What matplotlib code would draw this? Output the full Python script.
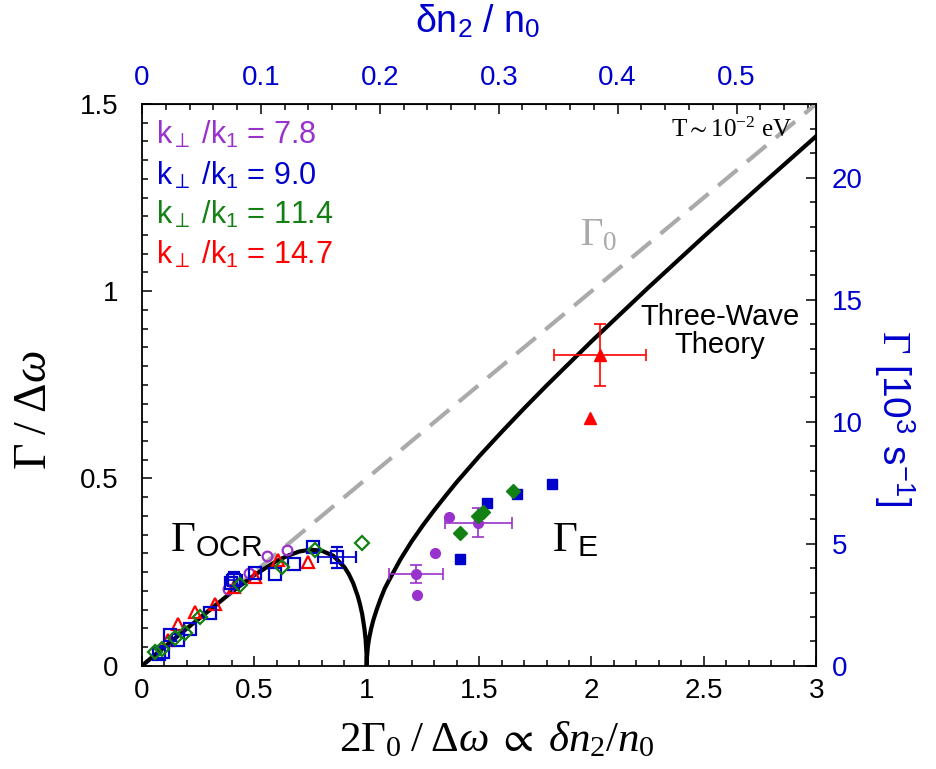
import numpy as np
import matplotlib
matplotlib.use('Agg')
import matplotlib.pyplot as plt
from matplotlib.ticker import MultipleLocator, FuncFormatter

plt.rcParams['font.family'] = ['Liberation Sans', 'DejaVu Sans']
plt.rcParams['mathtext.fontset'] = 'custom'
plt.rcParams['mathtext.rm'] = 'Liberation Serif'
plt.rcParams['mathtext.it'] = 'Liberation Serif:italic'
plt.rcParams['mathtext.bf'] = 'Liberation Serif:bold'
plt.rcParams['mathtext.sf'] = 'Liberation Sans'
plt.rcParams['mathtext.fallback'] = 'stix'

purple = '#9932cc'
blue = '#0000cc'
green = '#128012'
red = '#ff0000'
grey = '#aaaaaa'

# conversion factors for the twin axes
dn_per_x = 0.189      # delta n2 / n0 per unit of 2 Gamma0 / d omega
rate_per_y = 15.35    # Gamma [1e3 / s] per unit of Gamma / d omega

# three-wave theory curve
theory_x = [0, 0.1, 0.2, 0.3, 0.4, 0.5, 0.6, 0.65, 0.7, 0.75, 0.8, 0.85, 0.9, 0.92,
            0.94, 0.96, 0.97, 0.98, 0.99, 0.995, 0.999, 1.0,
            1.001, 1.005, 1.01, 1.02, 1.03, 1.045, 1.06, 1.08, 1.1, 1.15, 1.2, 1.25,
            1.3, 1.35, 1.4, 1.5, 1.6, 1.7, 1.8, 1.9, 2.0, 2.25, 2.5, 2.75, 3.0]
theory_y = [0, 0.05, 0.0996, 0.148, 0.197, 0.242, 0.280, 0.294, 0.305, 0.310, 0.307,
            0.294, 0.264, 0.245, 0.220, 0.186, 0.164, 0.137, 0.098, 0.070, 0.032, 0.0,
            0.022, 0.050, 0.071, 0.100, 0.123, 0.151, 0.176, 0.206, 0.229, 0.284,
            0.332, 0.375, 0.415, 0.453, 0.490, 0.559, 0.624, 0.687, 0.748, 0.807,
            0.866, 1.008, 1.146, 1.281, 1.414]

gamma0_x = [0, 3]
gamma0_y = [0, 1.5]

# open symbols (OCR regime)
p_open_x = [0.384, 0.478, 0.555, 0.644]
p_open_y = [0.204, 0.248, 0.293, 0.309]
b_open_x = [0.075, 0.095, 0.125, 0.162, 0.214, 0.303, 0.395, 0.503, 0.592, 0.677, 0.760]
b_open_y = [0.030, 0.037, 0.082, 0.069, 0.097, 0.140, 0.222, 0.247, 0.245, 0.272, 0.318]
b_open_err_x = [0.41, 0.866]
b_open_err_y = [0.228, 0.289]
b_open_err_dx = [0.033, 0.085]
b_open_err_dy = [0.022, 0.027]
g_open_x = [0.058, 0.088, 0.147, 0.191, 0.258, 0.436, 0.622, 0.770, 0.978]
g_open_y = [0.037, 0.044, 0.073, 0.088, 0.131, 0.215, 0.264, 0.309, 0.329]
r_open_x = [0.117, 0.162, 0.236, 0.325, 0.411, 0.503, 0.607, 0.737]
r_open_y = [0.070, 0.111, 0.144, 0.165, 0.209, 0.236, 0.282, 0.278]

# filled symbols (explosive regime)
p_fill_x = [1.225, 1.304, 1.366]
p_fill_y = [0.189, 0.302, 0.398]
p_fill_err_x = [1.218, 1.497]
p_fill_err_y = [0.245, 0.382]
p_fill_err_dx = [0.121, 0.150]
p_fill_err_dy = [0.0245, 0.038]
b_fill_x = [1.415, 1.534, 1.668, 1.826]
b_fill_y = [0.285, 0.435, 0.458, 0.484]
g_fill_x = [1.413, 1.497, 1.516, 1.653]
g_fill_y = [0.354, 0.400, 0.411, 0.466]
r_fill_x = [1.994]
r_fill_y = [0.661]
r_fill_err_x = [2.039]
r_fill_err_y = [0.830]
r_fill_err_dx = [0.205]
r_fill_err_dy = [0.082]

legend_text = [r'k$_{\mathsf{\perp}}$ /k$_{\mathsf{1}}$ = 7.8',
               r'k$_{\mathsf{\perp}}$ /k$_{\mathsf{1}}$ = 9.0',
               r'k$_{\mathsf{\perp}}$ /k$_{\mathsf{1}}$ = 11.4',
               r'k$_{\mathsf{\perp}}$ /k$_{\mathsf{1}}$ = 14.7']
legend_colors = [purple, blue, green, red]
legend_y = [1.417, 1.308, 1.203, 1.097]

fig = plt.figure(figsize=(9.36, 7.69), dpi=100)
ax = fig.add_axes([0.1517, 0.1343, 0.7203, 0.7305])

ax.plot(gamma0_x, gamma0_y, color=grey, lw=3, dashes=(6, 3), zorder=1)
ax.plot(theory_x, theory_y, color='k', lw=3, zorder=2)

mew = 1.6
ax.plot(p_open_x, p_open_y, 'o', mfc='none', mec=purple, mew=mew, ms=7, zorder=3)
ax.plot(r_open_x, r_open_y, '^', mfc='none', mec=red, mew=mew, ms=9, zorder=3)
ax.plot(b_open_x, b_open_y, 's', mfc='none', mec=blue, mew=mew, ms=8, zorder=3)
ax.errorbar(b_open_err_x, b_open_err_y, xerr=b_open_err_dx, yerr=b_open_err_dy,
            fmt='s', mfc='none', mec=blue, mew=mew, ms=8, ecolor=blue,
            elinewidth=1.2, capsize=4, capthick=1.2, zorder=3)
ax.plot(g_open_x, g_open_y, 'D', mfc='none', mec=green, mew=mew, ms=7, zorder=4)

ax.plot(p_fill_x, p_fill_y, 'o', color=purple, ms=7, zorder=3)
ax.errorbar(p_fill_err_x, p_fill_err_y, xerr=p_fill_err_dx, yerr=p_fill_err_dy,
            fmt='o', color=purple, ms=7, elinewidth=1.2, capsize=4, capthick=1.2,
            zorder=3)
ax.plot(b_fill_x, b_fill_y, 's', color=blue, ms=7, zorder=3)
ax.plot(g_fill_x, g_fill_y, 'D', color=green, ms=7, zorder=4)
ax.plot(r_fill_x, r_fill_y, '^', color=red, ms=9, zorder=3)
ax.errorbar(r_fill_err_x, r_fill_err_y, xerr=r_fill_err_dx, yerr=r_fill_err_dy,
            fmt='^', color=red, ms=9, elinewidth=1.2, capsize=4, capthick=1.2,
            zorder=3)

ax.set_xlim(0, 3)
ax.set_ylim(0, 1.5)

fmt = FuncFormatter(lambda v, p: f'{v:g}')
ax.xaxis.set_major_locator(MultipleLocator(0.5))
ax.xaxis.set_minor_locator(MultipleLocator(0.1))
ax.yaxis.set_major_locator(MultipleLocator(0.5))
ax.yaxis.set_minor_locator(MultipleLocator(0.05))
ax.xaxis.set_major_formatter(fmt)
ax.yaxis.set_major_formatter(fmt)
ax.tick_params(which='both', direction='in', top=False, right=False, width=1.1)
ax.tick_params(which='major', length=7, labelsize=20)
ax.tick_params(which='minor', length=4)
ax.tick_params(axis='x', pad=9)
ax.tick_params(axis='y', pad=17)
for s in ax.spines.values():
    s.set_linewidth(1.3)

top = ax.secondary_xaxis('top', functions=(lambda x: x * dn_per_x,
                                           lambda x: x / dn_per_x))
top.xaxis.set_major_locator(MultipleLocator(0.1))
top.xaxis.set_minor_locator(MultipleLocator(0.02))
top.xaxis.set_major_formatter(fmt)
top.tick_params(which='both', direction='in', width=1.1, labelcolor=blue)
top.tick_params(which='major', length=7, labelsize=20, pad=9)
top.tick_params(which='minor', length=4)

right = ax.secondary_yaxis('right', functions=(lambda y: y * rate_per_y,
                                               lambda y: y / rate_per_y))
right.yaxis.set_major_locator(MultipleLocator(5))
right.yaxis.set_minor_locator(MultipleLocator(1))
right.yaxis.set_major_formatter(fmt)
right.tick_params(which='both', direction='in', width=1.1, labelcolor=blue)
right.tick_params(which='major', length=7, labelsize=20, pad=11)
right.tick_params(which='minor', length=4)

# axis titles
ax.text(-0.16, 0.455, r'$\Gamma\;/\;\Delta\omega$', transform=ax.transAxes,
        rotation=90, ha='center', va='center', fontsize=33)
ax.text(0.527, -0.132, r'$2\Gamma_0\;/\;\Delta\omega\;\propto\;\delta n_2/n_0$',
        transform=ax.transAxes, ha='center', va='center', fontsize=31)
ax.text(0.4985, 1.146, r'δn$_{\mathsf{2}}$ / n$_{\mathsf{0}}$', transform=ax.transAxes,
        ha='center', va='center', fontsize=27, color=blue)
ax.text(1.115, 0.44, r'$\Gamma$ [10$^{\mathsf{3}}$ s$^{\mathsf{-1}}$]',
        transform=ax.transAxes, rotation=270, ha='center', va='center',
        fontsize=28, color=blue)

# annotations
ax.text(2.893, 1.43, r'T$\sim$10$^{-2}$ eV', ha='right', va='center',
        fontsize=18, family=['Liberation Serif', 'DejaVu Serif'])
ax.text(1.95, 1.15, r'$\Gamma_0$', color=grey, ha='left', va='center', fontsize=28)
ax.text(2.573, 0.893, 'Three-Wave\nTheory', ha='center', va='center', fontsize=21,
        linespacing=1.0)
ax.text(0.125, 0.336, r'$\Gamma_{\mathsf{OCR}}$', ha='left', va='center', fontsize=31)
ax.text(1.825, 0.336, r'$\Gamma_{\mathsf{E}}$', ha='left', va='center', fontsize=31)

for t, c, yy in zip(legend_text, legend_colors, legend_y):
    ax.text(0.062, yy, t, color=c, ha='left', va='center', fontsize=22)

fig.savefig('out.png', dpi=100)
